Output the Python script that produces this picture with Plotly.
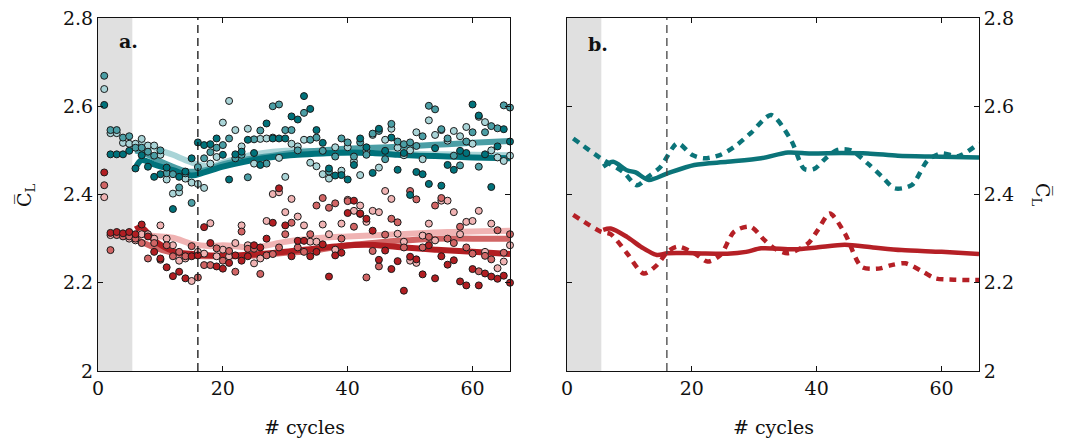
import plotly.graph_objects as go

W, H = 1072, 443
FONT = "DejaVu Serif"

# ---------------- data ----------------
cycles = list(range(1, 67))

# panel a: per-cycle lift coefficient samples (teal group)
teal_dark = [2.603, 2.491, 2.491, 2.491, 2.499, 2.459, 2.489, 2.463, 2.440, 2.446,
             2.461, 2.367, 2.440, 2.452, 2.482, 2.518, 2.512, 2.514, 2.527, 2.490,
             2.434, 2.491, 2.497, 2.524, 2.494, 2.467, 2.561, 2.527, 2.527, 2.527,
             2.577, 2.570, 2.623, 2.594, 2.546, 2.517, 2.459, 2.443, 2.444, 2.434,
             2.467, 2.527, 2.507, 2.449, 2.549, 2.499, 2.529, 2.456, 2.494, 2.399,
             2.451, 2.446, 2.424, 2.505, 2.420, 2.467, 2.456, 2.499, 2.494, 2.604,
             2.579, 2.491, 2.417, 2.509, 2.548, 2.520]
teal_mid = [2.669, 2.546, 2.546, 2.529, 2.532, 2.506, 2.506, 2.497, 2.488, 2.500,
            2.448, 2.446, 2.416, 2.448, 2.381, 2.462, 2.482, 2.496, 2.506, 2.512,
            2.527, 2.482, 2.490, 2.439, 2.525, 2.545, 2.470, 2.600, 2.604, 2.546,
            2.546, 2.500, 2.585, 2.524, 2.529, 2.499, 2.452, 2.486, 2.527, 2.518,
            2.486, 2.518, 2.490, 2.538, 2.544, 2.480, 2.560, 2.520, 2.514, 2.518,
            2.510, 2.532, 2.601, 2.593, 2.548, 2.527, 2.488, 2.466, 2.520, 2.541,
            2.463, 2.541, 2.555, 2.550, 2.602, 2.597]
teal_light = [2.639, 2.539, 2.539, 2.517, 2.515, 2.515, 2.526, 2.511, 2.511, 2.490,
              2.434, 2.402, 2.405, 2.436, 2.427, 2.424, 2.415, 2.470, 2.485, 2.563,
              2.612, 2.546, 2.509, 2.549, 2.470, 2.526, 2.527, 2.529, 2.483, 2.440,
              2.515, 2.509, 2.524, 2.472, 2.464, 2.446, 2.436, 2.507, 2.454, 2.507,
              2.475, 2.444, 2.499, 2.535, 2.461, 2.524, 2.549, 2.506, 2.489, 2.500,
              2.541, 2.480, 2.568, 2.535, 2.546, 2.522, 2.544, 2.532, 2.553, 2.515,
              2.576, 2.564, 2.500, 2.484, 2.476, 2.488]

# panel a: per-cycle lift coefficient samples (red group)
red_dark = [2.450, 2.313, 2.315, 2.312, 2.315, 2.310, 2.332, 2.305, 2.270, 2.255,
            2.235, 2.215, 2.225, 2.210, 2.260, 2.262, 2.326, 2.290, 2.237, 2.232,
            2.245, 2.262, 2.250, 2.260, 2.285, 2.280, 2.300, 2.336, 2.414, 2.330,
            2.260, 2.295, 2.295, 2.260, 2.270, 2.287, 2.214, 2.262, 2.268, 2.358,
            2.386, 2.357, 2.345, 2.318, 2.252, 2.273, 2.231, 2.249, 2.182, 2.259,
            2.253, 2.219, 2.285, 2.210, 2.260, 2.241, 2.251, 2.203, 2.194, 2.231,
            2.194, 2.221, 2.214, 2.209, 2.216, 2.200]
red_mid = [2.421, 2.274, 2.308, 2.305, 2.305, 2.300, 2.290, 2.255, 2.290, 2.252,
           2.285, 2.260, 2.270, 2.260, 2.283, 2.212, 2.240, 2.240, 2.278, 2.250,
           2.272, 2.225, 2.316, 2.277, 2.277, 2.220, 2.262, 2.265, 2.280, 2.310,
           2.336, 2.280, 2.270, 2.310, 2.375, 2.392, 2.370, 2.380, 2.300, 2.385,
           2.327, 2.356, 2.212, 2.272, 2.237, 2.309, 2.345, 2.337, 2.280, 2.408,
           2.389, 2.280, 2.304, 2.375, 2.392, 2.300, 2.290, 2.327, 2.280, 2.266,
           2.226, 2.261, 2.253, 2.319, 2.268, 2.310]
red_light = [2.394, 2.308, 2.310, 2.310, 2.300, 2.296, 2.310, 2.310, 2.300, 2.330,
             2.300, 2.285, 2.250, 2.255, 2.204, 2.270, 2.266, 2.335, 2.260, 2.275,
             2.260, 2.290, 2.330, 2.285, 2.244, 2.255, 2.340, 2.401, 2.405, 2.360,
             2.390, 2.350, 2.330, 2.293, 2.293, 2.332, 2.310, 2.275, 2.334, 2.388,
             2.363, 2.375, 2.338, 2.363, 2.360, 2.408, 2.390, 2.311, 2.293, 2.250,
             2.245, 2.307, 2.334, 2.296, 2.386, 2.386, 2.360, 2.310, 2.338, 2.340,
             2.363, 2.270, 2.334, 2.233, 2.248, 2.285]

# panel a: running means
teal_light_avg_x = [6, 8, 10, 12, 14, 16, 18, 20, 24, 28, 32, 36, 40, 44, 48, 52, 56, 60, 66]
teal_light_avg_y = [2.515, 2.512, 2.500, 2.490, 2.478, 2.468, 2.463, 2.472, 2.488, 2.497,
                    2.500, 2.497, 2.494, 2.495, 2.494, 2.492, 2.491, 2.490, 2.489]
teal_mid_avg_x = [6, 8, 10, 12, 14, 16, 18, 20, 24, 28, 32, 36, 40, 44, 48, 52, 56, 60, 66]
teal_mid_avg_y = [2.500, 2.490, 2.475, 2.463, 2.453, 2.452, 2.458, 2.468, 2.480, 2.488,
                  2.496, 2.500, 2.504, 2.506, 2.508, 2.511, 2.514, 2.517, 2.521]
teal_dark_avg_x = [6, 7, 9, 12, 15, 17, 20, 24, 28, 32, 36, 40, 44, 48, 52, 56, 60, 66]
teal_dark_avg_y = [2.460, 2.478, 2.468, 2.455, 2.443, 2.450, 2.463, 2.476, 2.485, 2.490,
                   2.493, 2.495, 2.494, 2.490, 2.488, 2.486, 2.484, 2.482]

red_light_avg_x = [6, 9, 12, 15, 18, 20, 25, 30, 34, 40, 48, 56, 66]
red_light_avg_y = [2.310, 2.306, 2.302, 2.288, 2.283, 2.285, 2.280, 2.293, 2.300, 2.305,
                   2.310, 2.315, 2.318]
red_mid_avg_x = [6, 9, 12, 15, 20, 25, 30, 34, 40, 44, 48, 54, 60, 66]
red_mid_avg_y = [2.300, 2.280, 2.268, 2.262, 2.260, 2.262, 2.268, 2.272, 2.285, 2.290,
                 2.295, 2.300, 2.300, 2.300]
red_dark_avg_x = [6, 7, 9, 12, 16, 20, 25, 30, 34, 38, 43, 48, 54, 60, 66]
red_dark_avg_y = [2.321, 2.325, 2.296, 2.272, 2.264, 2.261, 2.264, 2.270, 2.276, 2.282,
                  2.286, 2.281, 2.275, 2.270, 2.265]

# panel b: mean curves (solid) and estimates (dotted)
teal_solid_x = [5.8, 7.4, 9.6, 11, 13.1, 16.1, 20.4, 25.7, 31.1, 35.4, 39, 44, 48.2, 53,
                58, 62, 66]
teal_solid_y = [2.463, 2.474, 2.455, 2.450, 2.433, 2.448, 2.467, 2.474, 2.482, 2.495,
                2.493, 2.494, 2.493, 2.488, 2.486, 2.485, 2.484]
teal_dot_x = [1, 5.4, 9, 11.2, 13, 15, 17.7, 20, 22, 24.6, 26.8, 29.5, 32.7, 35.9, 38,
              39.6, 41.5, 43.3, 45.5, 48.2, 50.5, 52.5, 55.2, 57.8, 60, 62.7, 66]
teal_dot_y = [2.527, 2.482, 2.451, 2.421, 2.440, 2.463, 2.516, 2.490, 2.482, 2.490,
              2.508, 2.540, 2.580, 2.523, 2.458, 2.458, 2.483, 2.501, 2.500, 2.470,
              2.440, 2.414, 2.421, 2.478, 2.493, 2.487, 2.516]
red_solid_x = [5.8, 7, 9.6, 12, 14.4, 16.1, 20.4, 25.7, 28.7, 31.1, 36.4, 40, 44.5, 49,
               53.6, 60, 66]
red_solid_y = [2.320, 2.323, 2.304, 2.280, 2.263, 2.267, 2.267, 2.266, 2.270, 2.278,
               2.276, 2.280, 2.286, 2.280, 2.274, 2.270, 2.265]
red_dot_x = [1, 5.4, 7, 9.6, 12.3, 14.4, 16.1, 17.7, 20.4, 22.5, 24.6, 26.8, 29.4, 31.6,
             33.2, 35.4, 38.6, 40.2, 42.1, 44.5, 47.2, 49.9, 52, 54.2, 57, 59, 62, 66]
red_dot_y = [2.354, 2.316, 2.310, 2.267, 2.221, 2.240, 2.270, 2.282, 2.267, 2.248,
             2.263, 2.316, 2.327, 2.297, 2.278, 2.267, 2.289, 2.320, 2.357, 2.312,
             2.236, 2.232, 2.240, 2.244, 2.225, 2.210, 2.207, 2.206]

y_ticks = [2.0, 2.2, 2.4, 2.6, 2.8]
y_tick_text = ["2", "2.2", "2.4", "2.6", "2.8"]
x_ticks = [0, 20, 40, 60]
warmup_end = 5.5
transient_end = 16

# ---------------- style ----------------
TEAL_D, TEAL_M, TEAL_L = "#00727b", "#4b9ea5", "#a9d4d7"
RED_D, RED_M, RED_L = "#b21e22", "#d16565", "#f0b3b3"
TEAL_B, RED_B = "#0b7479", "#b52026"

fig = go.Figure()

# running-mean bands (panel a)
for xs, ys, col in [
    (teal_light_avg_x, teal_light_avg_y, TEAL_L),
    (teal_mid_avg_x, teal_mid_avg_y, TEAL_M),
    (teal_dark_avg_x, teal_dark_avg_y, TEAL_D),
    (red_light_avg_x, red_light_avg_y, RED_L),
    (red_mid_avg_x, red_mid_avg_y, RED_M),
    (red_dark_avg_x, red_dark_avg_y, RED_D),
]:
    fig.add_trace(go.Scatter(x=xs, y=ys, mode="lines", xaxis="x", yaxis="y",
                             line=dict(color=col, width=6, shape="spline", smoothing=1.0),
                             showlegend=False, hoverinfo="skip"))

# per-cycle samples (panel a)
for ys, col in [
    (red_light, RED_L), (red_mid, RED_M), (red_dark, RED_D),
    (teal_light, TEAL_L), (teal_mid, TEAL_M), (teal_dark, TEAL_D),
]:
    fig.add_trace(go.Scatter(x=cycles, y=ys, mode="markers", xaxis="x", yaxis="y",
                             marker=dict(color=col, size=7, line=dict(color="#1a1a1a", width=1)),
                             cliponaxis=False, showlegend=False))

# panel b curves
for xs, ys, col, dash in [
    (teal_dot_x, teal_dot_y, TEAL_B, "7px,6px"),
    (red_dot_x, red_dot_y, RED_B, "7px,6px"),
    (teal_solid_x, teal_solid_y, TEAL_B, "solid"),
    (red_solid_x, red_solid_y, RED_B, "solid"),
]:
    fig.add_trace(go.Scatter(x=xs, y=ys, mode="lines", xaxis="x2", yaxis="y2",
                             line=dict(color=col, width=4.5, dash=dash, shape="spline", smoothing=0.8),
                             showlegend=False))

dom_a = [98 / W, 510 / W]
dom_b = [567 / W, 979 / W]
dom_y = [(H - 371) / H, (H - 18) / H]

axis_common = dict(showline=True, linecolor="#111", linewidth=1, ticks="inside", ticklen=5,
                   tickcolor="#111", mirror="ticks", showgrid=False, zeroline=False,
                   automargin=False,
                   tickfont=dict(family=FONT, size=19, color="#111"))

fig.update_layout(
    width=W, height=H, margin=dict(l=0, r=0, t=0, b=0, autoexpand=False),
    paper_bgcolor="white", plot_bgcolor="white",
    font=dict(family=FONT, size=19, color="#111"),
    xaxis=dict(domain=dom_a, range=[0, 66], tickvals=x_ticks, anchor="y", **axis_common),
    yaxis=dict(domain=dom_y, range=[2.0, 2.8], tickvals=y_ticks, ticktext=y_tick_text,
               anchor="x", **axis_common),
    xaxis2=dict(domain=dom_b, range=[0, 66], tickvals=x_ticks, anchor="y2", **axis_common),
    yaxis2=dict(domain=dom_y, range=[2.0, 2.8], tickvals=y_ticks, ticktext=y_tick_text,
                anchor="x2", side="right", **axis_common),
)

shapes = []
for xr, yr, dcol in [("x", "y", "#111"), ("x2", "y2", "#444")]:
    shapes.append(dict(type="rect", xref=xr, yref=yr, x0=0, x1=warmup_end, y0=2.0, y1=2.8,
                       fillcolor="#e0e0e0", line=dict(width=0), layer="below"))
    shapes.append(dict(type="line", xref=xr, yref=yr, x0=transient_end, x1=transient_end,
                       y0=2.0, y1=2.8, line=dict(color=dcol, width=1.3, dash="8px,5px"),
                       layer="above"))
fig.update_layout(shapes=shapes)

ann = [
    dict(text="<b>a.</b>", x=117 / W, y=1 - 41 / H, xanchor="left", yanchor="middle"),
    dict(text="<b>b.</b>", x=586 / W, y=1 - 44 / H, xanchor="left", yanchor="middle"),
    dict(text="# cycles", x=304 / W, y=1 - 427 / H, xanchor="center", yanchor="middle"),
    dict(text="# cycles", x=773 / W, y=1 - 427 / H, xanchor="center", yanchor="middle"),
    dict(text="C\u0305<sub>L</sub>", x=25 / W, y=1 - 195 / H, xanchor="center",
         yanchor="middle", textangle=-90),
    dict(text="C\u0305<sub>L</sub>", x=1042 / W, y=1 - 195 / H, xanchor="center",
         yanchor="middle", textangle=90),
]
for a in ann:
    a.update(xref="paper", yref="paper", showarrow=False,
             font=dict(family=FONT, size=19, color="#111"))
fig.update_layout(annotations=ann)

fig.write_html("out.html")
